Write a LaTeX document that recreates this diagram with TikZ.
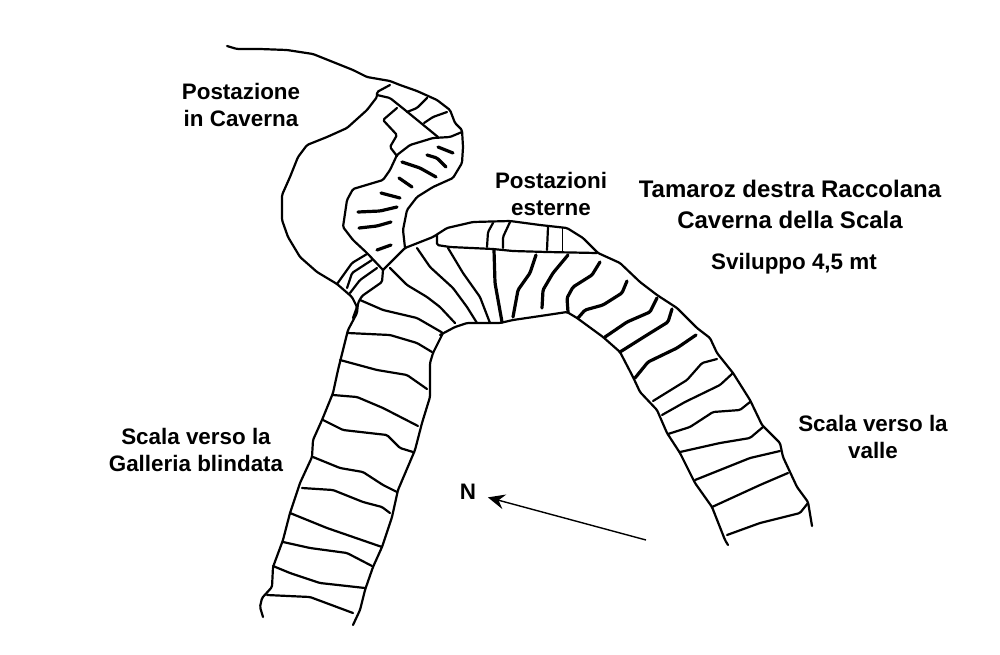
\documentclass[tikz,border=0pt]{standalone}
\usepackage{fontspec}
\setmainfont{Liberation Sans}
\usetikzlibrary{arrows.meta}
\usetikzlibrary{positioning}
\tikzset{
    wall/.style={line width=2.2pt, line join=round, line cap=round, rounded corners=1.5pt},
    rung/.style={wall},
    heavy/.style={wall, line width=3.2pt},
    label/.style={font=\fontsize{22.4}{27}\selectfont\bfseries, align=center, inner sep=0pt},
    title/.style={font=\fontsize{24}{31}\selectfont\bfseries, align=center, inner sep=0pt},
}

\begin{document}
\begin{tikzpicture}[x=1pt, y=-1pt]
        \useasboundingbox (0,0) rectangle (1000,654);
        % cave
        \draw [wall] (227,46) -- (237,49) -- (260,49) -- (287,50) -- (313,54) -- (333,62) -- (353,70) -- (367,77) -- (390,81) -- (400,85) -- (417,91) -- (437,100) -- (450,110) -- (455,123) -- (462,130) -- (463,147) -- (462,163) -- (453,178) -- (433,187) -- (417,197) -- (407,210) -- (403,230) -- (405,248);
        \draw [wall] (390,85) -- (377,92) -- (377,97) -- (367,110) -- (347,128) -- (327,137) -- (307,145) -- (298,157) -- (290,177) -- (282,195) -- (282,220) -- (288,237) -- (300,257) -- (317,272) -- (337,284) -- (352,297) -- (357,307) -- (353,318);
        \draw [wall] (377,95) -- (390,98) -- (405,110) -- (427,128) -- (438,137);
        \draw [wall] (397,108) -- (383,120) -- (397,135) -- (390,147) -- (397,156);
        \draw [wall] (462,132) -- (450,137) -- (433,138) -- (410,145) -- (397,155) -- (390,170) -- (383,180) -- (353,189) -- (347,200) -- (343,227) -- (353,240) -- (367,253) -- (383,270);
        \draw [rung] (427,98) -- (417,108) -- (407,112);
        \draw [rung] (447,112) -- (433,117) -- (424,123);
        \draw [heavy] (438,147) -- (453,153);
        \draw [heavy] (427,155) -- (437,158) -- (446,167);
        \draw [heavy] (402,162) -- (420,168) -- (436,177);
        \draw [heavy] (399,178) -- (412,187);
        \draw [heavy] (381,193) -- (400,198);
        \draw [heavy] (358,212) -- (380,211) -- (397,207);
        \draw [heavy] (359,228) -- (377,226) -- (391,222);
        \draw [heavy] (377,250) -- (391,245);
        \draw [rung] (367,254) -- (352,263) -- (337,284);
        \draw [rung] (372,260) -- (352,273) -- (347,288);
        \draw [rung] (377,268) -- (360,280) -- (350,293);
        % outer stations
        \draw [wall] (383,270) -- (405,248) -- (433,237) -- (447,228) -- (473,222) -- (510,221) -- (540,225) -- (567,228) -- (583,238) -- (598,253) -- (620,263) -- (640,282) -- (657,295) -- (677,308) -- (697,328) -- (710,338) -- (717,353) -- (733,373) -- (750,400) -- (762,425) -- (780,443) -- (783,457) -- (797,487) -- (808,502) -- (812,526);
        \draw [wall] (437,235) -- (437,245) -- (450,247) -- (493,249) -- (513,251) -- (547,252) -- (597,253);
        \draw [rung] (493,223) -- (488,232) -- (487,247);
        \draw [rung] (510,222) -- (503,237) -- (503,248);
        \draw [rung] (548,227) -- (547,250);
        \draw [line width=1pt] (562,228) -- (562,253);
        \draw [rung] (390,268) -- (407,285) -- (427,297) -- (440,307) -- (455,323);
        \draw [rung] (417,248) -- (430,267) -- (453,288) -- (467,307) -- (477,323);
        \draw [rung] (448,248) -- (463,273) -- (480,297) -- (490,323);
        \draw [heavy] (494,250) -- (495,283) -- (502,322);
        \draw [heavy] (536,255) -- (530,273) -- (518,290) -- (513,317);
        \draw [heavy] (568,255) -- (553,273) -- (543,290) -- (542,308);
        \draw [heavy] (600,262) -- (592,275) -- (573,287) -- (567,298) -- (568,312);
        \draw [heavy] (627,281) -- (622,293) -- (603,305) -- (585,310) -- (578,318);
        % stairs to the valley
        \draw [wall] (440,335) -- (455,327) -- (467,323) -- (500,323) -- (513,320) -- (547,315) -- (567,312) -- (577,318) -- (603,337) -- (620,352) -- (633,377) -- (640,392) -- (657,410) -- (667,433) -- (680,453) -- (695,483) -- (712,507) -- (725,540) -- (728,545);
        \draw [heavy] (657,298) -- (650,312) -- (627,322) -- (605,337);
        \draw [heavy] (672,309) -- (668,322) -- (647,335) -- (620,352);
        \draw [heavy] (696,335) -- (677,348) -- (648,362) -- (635,378);
        \draw [rung] (717,359) -- (702,363) -- (687,380) -- (653,401);
        \draw [rung] (733,373) -- (720,385) -- (685,402) -- (662,415);
        \draw [rung] (750,402) -- (740,410) -- (713,412) -- (690,427) -- (668,434);
        \draw [rung] (763,427) -- (750,438) -- (720,443) -- (680,452);
        \draw [rung] (780,451) -- (750,458) -- (695,480);
        \draw [rung] (788,473) -- (760,485) -- (712,507);
        \draw [rung] (808,503) -- (800,513) -- (760,523) -- (727,535);
        % stairs to the gallery
        \draw [wall] (383,270) -- (382,282) -- (362,296) -- (358,303) -- (357,313) -- (348,330) -- (343,350) -- (338,370) -- (333,393) -- (322,420) -- (313,440) -- (312,457) -- (300,483) -- (290,513) -- (283,540) -- (273,567) -- (272,587) -- (262,598) -- (260,607) -- (263,617);
        \draw [wall] (360,300) -- (383,310) -- (417,318) -- (443,333) -- (433,353) -- (430,363) -- (430,397) -- (422,423) -- (415,450) -- (398,490) -- (392,517) -- (382,547) -- (373,567) -- (365,590) -- (360,610) -- (353,625);
        \draw [rung] (348,333) -- (390,335) -- (417,343) -- (432,352);
        \draw [rung] (340,360) -- (377,370) -- (407,375) -- (427,389);
        \draw [rung] (333,395) -- (357,397) -- (383,408) -- (418,426);
        \draw [rung] (323,420) -- (343,430) -- (387,435) -- (400,448) -- (413,452);
        \draw [rung] (313,457) -- (340,468) -- (363,472) -- (383,485) -- (397,492);
        \draw [rung] (302,488) -- (333,490) -- (363,502) -- (382,507) -- (390,513);
        \draw [rung] (290,513) -- (327,528) -- (382,547);
        \draw [rung] (283,542) -- (310,548) -- (347,553) -- (372,566);
        \draw [rung] (273,566) -- (290,573) -- (320,583) -- (365,588);
        \draw [rung] (267,595) -- (310,597) -- (353,613);
        % labels
        \node (caverna) [label] at (241,105) {Postazione\\in Caverna};
        \node (esterne) [label] at (551,194) {Postazioni\\esterne};
        \node (titolo) [title] at (790,204) {Tamaroz destra Raccolana\\Caverna della Scala};
        \node (sviluppo) [label] at (794,264) {Sviluppo 4,5 mt};
        \node (valle) [label] at (873,437) {Scala verso la\\valle};
        \node (galleria) [label] at (196,450) {Scala verso la\\Galleria blindata};
        \node (nord) [label] at (468,492) {N};
        \coordinate (coda) at (646,540);
        \draw [-{Stealth[length=17pt, width=15pt, inset=6pt]}, line width=1.4pt, shorten >=12pt] (coda) -- (nord);
    \end{tikzpicture}
\end{document}
